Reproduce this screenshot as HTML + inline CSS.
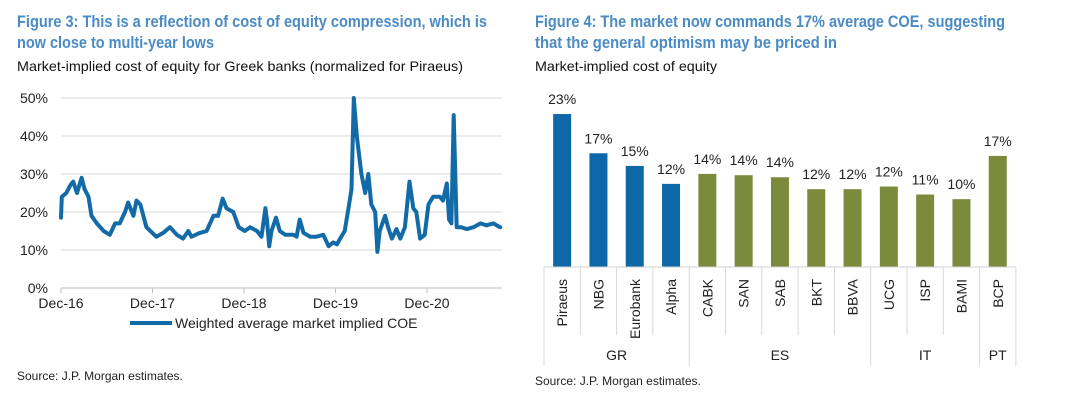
<!DOCTYPE html>
<html><head><meta charset="utf-8"><style>
html,body{margin:0;padding:0;background:#fff;}
svg{display:block;font-family:"Liberation Sans Narrow","Liberation Sans",sans-serif;}
</style></head><body>
<svg id="root" width="1070" height="407" viewBox="0 0 1070 407">
<g>
<text x="17" y="27" font-size="16.5" font-weight="bold" fill="#4a8bc4" textLength="470" lengthAdjust="spacingAndGlyphs">Figure 3: This is a reflection of cost of equity compression, which is</text>
<text x="17" y="48" font-size="16.5" font-weight="bold" fill="#4a8bc4" textLength="197" lengthAdjust="spacingAndGlyphs">now close to multi-year lows</text>
<text x="17" y="71" font-size="14" fill="#111" textLength="446" lengthAdjust="spacingAndGlyphs">Market-implied cost of equity for Greek banks (normalized for Piraeus)</text>
</g>
<g>
<text x="535" y="27" font-size="16.5" font-weight="bold" fill="#4a8bc4" textLength="470" lengthAdjust="spacingAndGlyphs">Figure 4: The market now commands 17% average COE, suggesting</text>
<text x="535" y="48" font-size="16.5" font-weight="bold" fill="#4a8bc4" textLength="302" lengthAdjust="spacingAndGlyphs">that the general optimism may be priced in</text>
<text x="535" y="71" font-size="14" fill="#111" textLength="182" lengthAdjust="spacingAndGlyphs">Market-implied cost of equity</text>
</g>
<g id="lc"></g>
<g id="bc"></g>
<text x="17" y="380" font-size="12" fill="#222">Source: J.P. Morgan estimates.</text>
<text x="535" y="385" font-size="12" fill="#222">Source: J.P. Morgan estimates.</text>
</svg>
<script>
// ---- Figure 3 data: months since Dec-16, COE %
const lineMonths = [0,0.1,0.7,1.2,1.6,2.1,2.7,3.1,3.6,4.0,4.7,5.6,6.4,7.1,7.7,8.4,8.8,9.5,9.9,10.4,11.2,12.5,13.4,14.3,15.2,16.0,16.7,17.1,18.2,19.1,20.0,20.6,21.2,21.7,22.6,23.3,24.1,24.8,25.7,26.3,26.8,27.0,27.3,27.6,28.2,28.7,29.4,30.5,30.9,31.3,31.8,32.7,33.5,34.4,35.1,35.7,36.2,36.6,37.2,37.7,38.1,38.4,38.8,39.1,39.4,39.9,40.3,40.7,41.2,41.5,41.8,42.5,42.9,43.4,44.0,44.5,45.1,45.7,46.2,46.6,47.1,47.7,48.2,48.8,49.7,50.1,50.6,50.9,51.2,51.5,51.9,52.5,53.2,54.1,55.0,55.8,56.7,57.6];
const lineValues = [18.5,24,25,27,28,25,29,26,24,19,17,15,14,17,17,20,22.5,19,23,22,16,13.5,14.5,16,14,13,15,13.5,14.5,15,19,19,23.5,21,20,16,15,16,15,13.5,21,18,11,15,18.5,15,14,14,13.5,18,14.5,13.5,13.5,14,11,12,11.5,13,15,21,26,50,40,35,30,25,30,22,20,9.5,15,19,16,13,15.5,13,16,28,21,20,13,14,22,24,24,23,27.5,18,17,45.5,16,16,15.5,16,17,16.5,17,16];
const yTicks = [0,10,20,30,40,50];
const xTickLabels = ["Dec-16","Dec-17","Dec-18","Dec-19","Dec-20"];
const xTickMonths = [0,12,24,36,48];
// ---- Figure 4 data
const bankNames = ["Piraeus","NBG","Eurobank","Alpha","CABK","SAN","SAB","BKT","BBVA","UCG","ISP","BAMI","BCP"];
const bankValues = [23,17.1,15.2,12.5,14.0,13.8,13.5,11.7,11.7,12.1,10.9,10.2,16.7];
const bankLabels = ["23%","17%","15%","12%","14%","14%","14%","12%","12%","12%","11%","10%","17%"];
const groupNames = ["GR","ES","IT","PT"];
const groupSizes = [4,5,3,1];

const NS="http://www.w3.org/2000/svg";
function mk(parent,tag,attrs,txt){const e=document.createElementNS(NS,tag);for(const k in attrs)e.setAttribute(k,attrs[k]);if(txt!==undefined)e.textContent=txt;parent.appendChild(e);return e;}

// line chart
const lc=document.getElementById('lc');
const X0=61, PX_PER_MONTH=91.5/12, Y0=288, PX_PER_PCT=3.8, XEND=502;
const xs=m=>X0+m*PX_PER_MONTH, ys=v=>Y0-v*PX_PER_PCT;
yTicks.forEach(t=>{
  if(t>0){const g=mk(lc,'line',{x1:X0,x2:XEND,y1:ys(t),y2:ys(t),stroke:'#d9d9d9','stroke-width':1});
  
  }
  const l=mk(lc,'text',{x:48,y:ys(t)+5,'font-size':14,'text-anchor':'end',fill:'#222'},t+'%');
  
  
});
const ax=mk(lc,'line',{x1:X0,x2:XEND,y1:Y0,y2:Y0,stroke:'#bfbfbf','stroke-width':1});


xTickMonths.forEach((m,i)=>{
  const tk=mk(lc,'line',{x1:xs(m),x2:xs(m),y1:Y0,y2:Y0+5,stroke:'#bfbfbf'});
  
  
  const l=mk(lc,'text',{x:xs(m),y:Y0+20,'font-size':14,'text-anchor':'middle',fill:'#222'},xTickLabels[i]);
  
  
});
const pts=lineMonths.map((m,i)=>xs(m).toFixed(1)+','+ys(lineValues[i]).toFixed(1)).join(' ');
const pl=mk(lc,'polyline',{points:pts,fill:'none',stroke:'#126aa6','stroke-width':4,'stroke-linejoin':'round','stroke-linecap':'round'});


const lgL=mk(lc,'line',{x1:130,x2:172,y1:323,y2:323,stroke:'#126aa6','stroke-width':4});


const lgT=mk(lc,'text',{x:175,y:328,'font-size':14,fill:'#222'},'Weighted average market implied COE');



// bar chart
const bc=document.getElementById('bc');
const BX0=544, CW=36.3, BASE=267, BPX=6.65, BW=18;
const bx=i=>BX0+CW*(i+0.5), bh=v=>v*BPX;
bankNames.forEach((n,i)=>{
  const r=mk(bc,'rect',{x:bx(i)-BW/2,y:BASE-bh(bankValues[i]),width:BW,height:bh(bankValues[i]),fill:i<4?'#0e67a6':'#7c8a3b'});
  
  
  const v=mk(bc,'text',{x:bx(i),y:BASE-bh(bankValues[i])-10,'font-size':14,'text-anchor':'middle',fill:'#222'},bankLabels[i]);
  
  
  const c=mk(bc,'text',{x:0,y:0,'font-size':14,'text-anchor':'end',fill:'#222',transform:'translate('+(bx(i)+5)+',279) rotate(-90)'},n);
  
  
});
const bax=mk(bc,'line',{x1:BX0,x2:BX0+CW*bankNames.length,y1:BASE,y2:BASE,stroke:'#d0d0d0'});


let bounds=[0];groupSizes.reduce((a,s)=>{bounds.push(a+s);return a+s;},0);
for(let k=0;k<=bankNames.length;k++){
  const isG=bounds.includes(k);
  const t=mk(bc,'line',{x1:BX0+CW*k,x2:BX0+CW*k,y1:BASE,y2:isG?366:335,stroke:'#d9d9d9'});
  
  
}
groupNames.forEach((g,j)=>{
  const cx=BX0+CW*(bounds[j]+bounds[j+1])/2;
  const t=mk(bc,'text',{x:cx,y:360,'font-size':14,'text-anchor':'middle',fill:'#222'},g);
  
  
});
</script>
</body></html>
